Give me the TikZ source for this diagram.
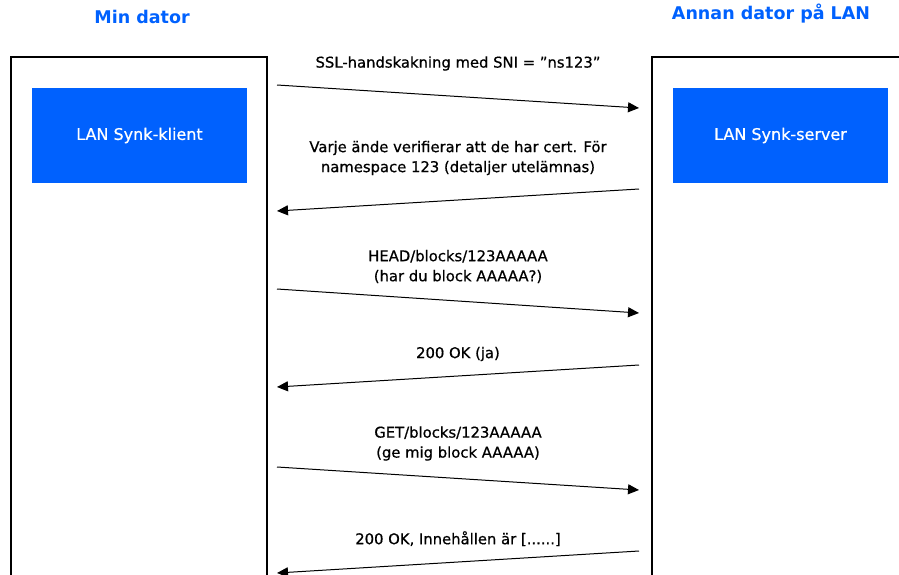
\documentclass[tikz,border=0pt]{standalone}
\usepackage{fontspec}
\setmainfont{DejaVu Sans}
\newfontfamily\mediumfont{DejaVu Sans}[FakeBold=0.7]
\usetikzlibrary{positioning,arrows.meta}
\definecolor{dbblue}{HTML}{0061FE}
\tikzset{
     arrow/.style={-{Triangle[length=11pt,width=10pt]}, line width=1pt},
     machine/.style={draw=black, line width=1.3pt},
     app/.style={fill=dbblue, text=white, minimum width=215pt, minimum height=95pt, font=\mediumfont\fontsize{16}{18}\selectfont},
     title/.style={text=dbblue, font=\fontsize{17.5}{22}\selectfont\bfseries},
     msg/.style={align=center, font=\mediumfont\fontsize{14.8}{20}\selectfont}
     }

\begin{document}
\begin{tikzpicture}[x=1pt,y=-1pt]
                    \useasboundingbox (0,0) rectangle (899,575);
                    % Machines
                    \draw[machine] (11,575) -- (11,57) -- (267,57) -- (267,575);
                    \draw[machine] (652,575) -- (652,57) -- (899,57);
                    % Place nodes
                    \node[title] (minDator) at (142,17) {Min dator};
                    \node[title] (annanDator) at (771,14) {Annan dator på LAN};
                    \node[app] (klient) at (139.5,135.5) {LAN Synk-klient};
                    \node[app] (server) at (780.5,135.5) {LAN Synk-server};
                    % Message ends
                    \coordinate (k1) at (277,85);  \coordinate (s1) at (639,108);
                    \coordinate (s2) at (639,189); \coordinate (k2) at (277,211);
                    \coordinate (k3) at (277,289); \coordinate (s3) at (639,313);
                    \coordinate (s4) at (639,365); \coordinate (k4) at (277,387);
                    \coordinate (k5) at (277,467); \coordinate (s5) at (639,490);
                    \coordinate (s6) at (639,551); \coordinate (k6) at (277,573);
                    % Draw edges
                    \path[arrow] (k1) edge node [msg, above=22pt] {SSL-handskakning med SNI = ”ns123”} (s1);
                    \path[arrow] (s2) edge node [msg, above=21pt] {Varje ände verifierar att de har cert. För\\namespace 123 (detaljer utelämnas)} (k2);
                    \path[arrow] (k3) edge node [msg, above=14pt] {HEAD/blocks/123AAAAA\\(har du block AAAAA?)} (s3);
                    \path[arrow] (s4) edge node [msg, above=11pt] {200 OK (ja)} (k4);
                    \path[arrow] (k5) edge node [msg, above=14pt] {GET/blocks/123AAAAA\\(ge mig block AAAAA)} (s5);
                    \path[arrow] (s6) edge node [msg, above=12pt] {200 OK, Innehållen är [......]} (k6);
                \end{tikzpicture}
\end{document}
